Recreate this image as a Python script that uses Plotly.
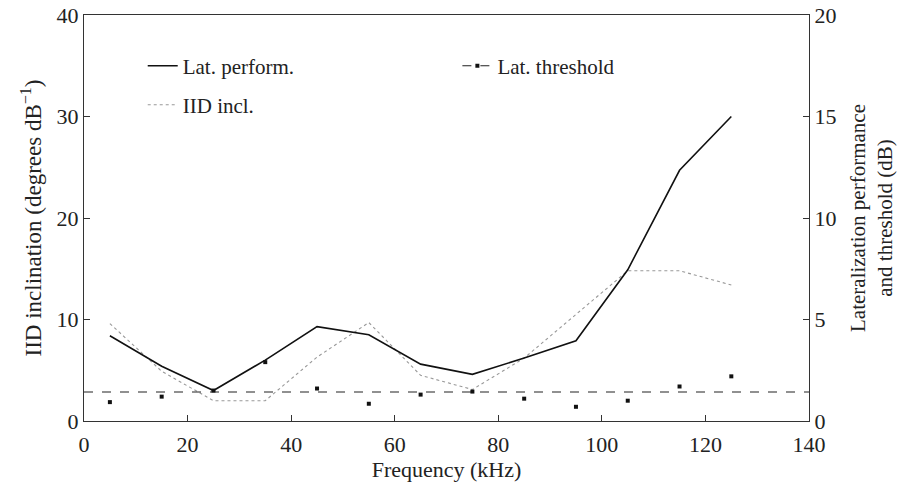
import plotly.graph_objects as go

freq = [5, 15, 25, 35, 45, 55, 65, 75, 85, 95, 105, 115, 125]
lat_perform = [4.2, 2.7, 1.5, 3.0, 4.65, 4.25, 2.8, 2.3, 3.1, 3.95, 7.45, 12.35, 15.0]
iid_incl = [9.6, 4.9, 2.0, 2.0, 6.3, 9.7, 4.5, 3.1, 6.2, 10.5, 14.8, 14.8, 13.4]
lat_threshold = [0.93, 1.2, 1.5, 2.9, 1.6, 0.85, 1.3, 1.45, 1.1, 0.7, 1.0, 1.7, 2.2]
threshold_mean_x = [0, 140]
threshold_mean = [1.43, 1.43]

FONT = "Liberation Serif"
TXT = "#222"

fig = go.Figure()
fig.add_trace(go.Scatter(x=freq, y=lat_perform, mode="lines", name="Lat. perform.",
                         line=dict(color="#111", width=1.6), yaxis="y2", legend="legend"))
fig.add_trace(go.Scatter(x=freq, y=iid_incl, mode="lines", name="IID incl.",
                         line=dict(color="#999", width=1.1, dash="dot"), yaxis="y", legend="legend3"))
fig.add_trace(go.Scatter(x=threshold_mean_x, y=threshold_mean, mode="lines", showlegend=False,
                         line=dict(color="#222", width=1.1, dash="dash"), yaxis="y2"))
fig.add_trace(go.Scatter(x=freq, y=lat_threshold, mode="markers", showlegend=False,
                         marker=dict(symbol="square", size=4, color="#111"), yaxis="y2"))
fig.add_trace(go.Scatter(x=[None], y=[None], mode="lines+markers", name="Lat. threshold",
                         line=dict(color="#222", width=1.1, dash="dash"),
                         marker=dict(symbol="square", size=4, color="#111"), yaxis="y2", legend="legend2"))

axis_common = dict(showgrid=False, zeroline=False, ticks="inside", ticklen=6, tickwidth=1,
                   tickcolor="#333", linecolor="#333", linewidth=1,
                   tickfont=dict(family=FONT, size=22, color=TXT))

leg_common = dict(bgcolor="rgba(0,0,0,0)", font=dict(family=FONT, size=21, color=TXT),
                  xanchor="left", yanchor="middle", itemwidth=30)

fig.update_layout(
    width=907, height=488,
    margin=dict(l=84, r=98, t=15, b=67, autoexpand=False),
    paper_bgcolor="white", plot_bgcolor="white",
    font=dict(family=FONT, color=TXT),
    xaxis=dict(range=[0, 140], dtick=20, mirror=True, showline=True, ticklabelstandoff=4,
               automargin=False,
               title=dict(text="Frequency (kHz)", font=dict(family=FONT, size=22, color=TXT), standoff=4),
               **axis_common),
    yaxis=dict(range=[0, 40], dtick=10, showline=True, automargin=False,
               title=dict(text="IID inclination (degrees dB<sup>−1</sup>)", font=dict(family=FONT, size=23, color=TXT), standoff=8),
               **axis_common),
    yaxis2=dict(range=[0, 20], dtick=5, overlaying="y", side="right", showline=True, automargin=False,
                title=dict(text="Lateralization performance<br>and threshold (dB)", font=dict(family=FONT, size=21, color=TXT), standoff=14),
                **axis_common),
    legend=dict(x=0.081, y=0.874, **leg_common),
    legend3=dict(x=0.081, y=0.778, **leg_common),
    legend2=dict(x=0.515, y=0.874, **leg_common),
)

fig.write_html("out.html")
